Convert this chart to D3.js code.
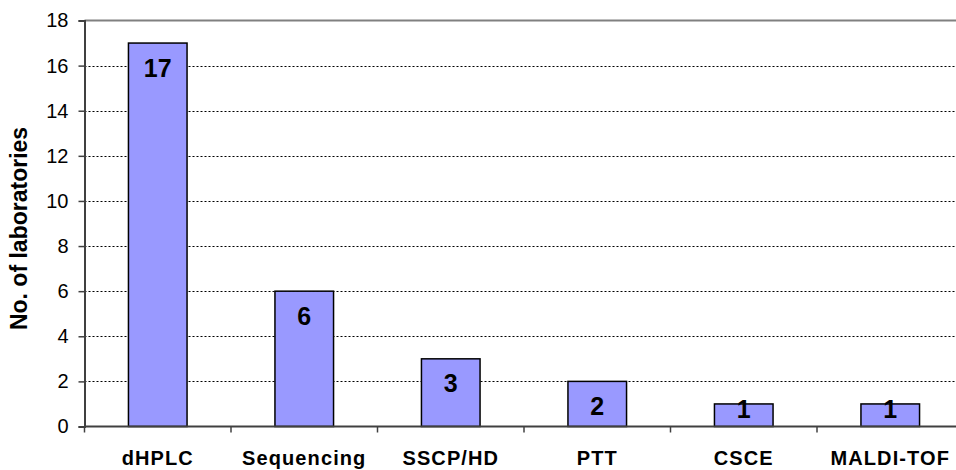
<!DOCTYPE html>
<html>
<head>
<meta charset="utf-8">
<script src="https://cdn.jsdelivr.net/npm/d3@7"></script>
<style>
  html, body { margin: 0; padding: 0; background: #fff; overflow: hidden; }
  svg { display: block; font-family: Arial, "Liberation Sans", sans-serif; }
</style>
</head>
<body>
<svg id="chart" width="956" height="470"></svg>
<script>
// ======== DATA ========
const categories = ['dHPLC', 'Sequencing', 'SSCP/HD', 'PTT', 'CSCE', 'MALDI-TOF'];
const labCounts = [17, 6, 3, 2, 1, 1];
const yTicks = [0, 2, 4, 6, 8, 10, 12, 14, 16, 18];
const yTitle = 'No. of laboratories';

const svg = d3.select('#chart');
const W = 956, H = 470;

// plot area runs off the right edge, like the original
const plotL = 84.5, plotR = 963.5, plotT = 20.5, plotB = 426.5;

const x = d3.scaleBand().domain(categories).range([plotL, plotR]).padding(0);
const y = d3.scaleLinear().domain([0, 18]).range([plotB, plotT]);

// Gridlines (dashed), top border solid grey
const grid = svg.append('g');
grid.selectAll('line.grid')
    .data(yTicks.filter(t => t > 0 && t < 18))
    .enter().append('line')
    .attr('class', 'grid')
    .attr('x1', plotL).attr('x2', W)
    .attr('y1', d => Math.round(y(d)) + 0.5)
    .attr('y2', d => Math.round(y(d)) + 0.5)
    .attr('stroke', '#000')
    .attr('stroke-width', 1)
    .attr('stroke-dasharray', '2,2');
grid.append('line')
    .attr('x1', plotL).attr('x2', W)
    .attr('y1', y(18)).attr('y2', y(18))
    .attr('stroke', '#808080')
    .attr('stroke-width', 2);

// Bars
const barFrac = 0.4;
const rows = categories.map((c, i) => ({ c, v: labCounts[i] }));
svg.append('g').selectAll('rect')
    .data(rows)
    .enter().append('rect')
    .attr('x', d => x(d.c) + x.bandwidth() * (1 - barFrac) / 2)
    .attr('width', x.bandwidth() * barFrac)
    .attr('y', d => y(d.v))
    .attr('height', d => y(0) - y(d.v))
    .attr('fill', '#9999FF')
    .attr('stroke', '#000')
    .attr('stroke-width', 1.5);

// Value labels (inside end, pushed up for short bars)
svg.append('g').selectAll('text')
    .data(rows)
    .enter().append('text')
    .attr('x', d => x(d.c) + x.bandwidth() / 2)
    .attr('y', d => Math.min(y(d.v) + 24.5, y(0) - 18))
    .attr('dy', '0.36em')
    .attr('text-anchor', 'middle')
    .attr('font-weight', 'bold')
    .attr('font-size', 25)
    .attr('fill', '#000')
    .text(d => d.v);

// Y axis
const yAxis = svg.append('g')
    .attr('transform', `translate(${plotL},0)`)
    .call(d3.axisLeft(y).tickValues(yTicks).tickSize(6).tickPadding(10).tickFormat(d3.format('d')));
yAxis.select('.domain').attr('stroke', '#404040').attr('stroke-width', 2);
yAxis.selectAll('.tick line').attr('stroke', '#404040').attr('stroke-width', 1.5);
yAxis.selectAll('.tick text')
    .attr('font-size', 20)
    .attr('font-family', 'Arial, "Liberation Sans", sans-serif')
    .attr('fill', '#000');

// X axis
const xAxis = svg.append('g')
    .attr('transform', `translate(0,${plotB})`)
    .call(d3.axisBottom(x).tickSize(0).tickPadding(0));
xAxis.select('.domain').remove();
xAxis.append('line')
    .attr('x1', plotL).attr('x2', W)
    .attr('y1', 0).attr('y2', 0)
    .attr('stroke', '#404040').attr('stroke-width', 2);
// category boundary ticks
xAxis.selectAll('line.bound')
    .data(categories.map(c => x(c)))
    .enter().append('line')
    .attr('class', 'bound')
    .attr('x1', d => d).attr('x2', d => d)
    .attr('y1', 0).attr('y2', 6)
    .attr('stroke', '#404040').attr('stroke-width', 1.5);
xAxis.selectAll('.tick text')
    .attr('y', 38)
    .attr('dy', 0)
    .attr('font-size', 20)
    .attr('font-weight', 'bold')
    .attr('letter-spacing', '1.1px')
    .attr('font-family', 'Arial, "Liberation Sans", sans-serif')
    .attr('fill', '#000');

// Y title
svg.append('text')
    .attr('transform', 'translate(27,228.5) rotate(-90)')
    .attr('text-anchor', 'middle')
    .attr('font-weight', 'bold')
    .attr('font-size', 23)
    .attr('fill', '#000')
    .text(yTitle);
</script>
</body>
</html>
